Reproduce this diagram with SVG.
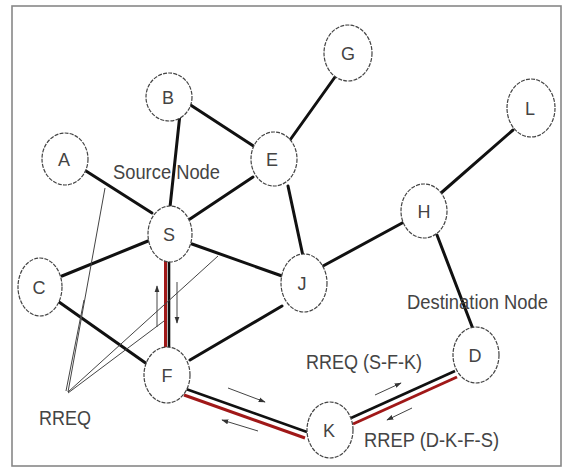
<svg xmlns="http://www.w3.org/2000/svg" width="566" height="468" viewBox="0 0 566 468">
<defs>
<marker id="ah" viewBox="0 0 10 10" refX="9" refY="5" markerWidth="7" markerHeight="7" orient="auto" markerUnits="userSpaceOnUse">
<path d="M0,1.5 L10,5 L0,8.5 Z" fill="#333"/>
</marker>
</defs>
<style>
.edge{stroke:#111;stroke-width:3;fill:none;stroke-linecap:round}
.red{stroke:#a01818;stroke-width:3;fill:none}
.blk{stroke:#111;stroke-width:2.6;fill:none}
.thin{stroke:#444;stroke-width:1;fill:none}
.arr{stroke:#444;stroke-width:1;fill:none;marker-end:url(#ah)}
.node ellipse{fill:#fff;stroke:#444;stroke-width:1.2;stroke-dasharray:4 1.2}
.lbl{font-family:"Liberation Sans",Arial,sans-serif;font-size:18px;fill:#444;text-anchor:middle}
.txt{font-family:"Liberation Sans",Arial,sans-serif;font-size:20px;fill:#444}
</style>
<rect x="0" y="0" width="566" height="468" fill="#fff"/>
<rect x="12" y="6" width="549" height="460" fill="none" stroke="#888" stroke-width="1.6"/>
<g id="connectors">
<line class="edge" x1="189" y1="104" x2="255" y2="147"/>
<line class="edge" x1="180" y1="114" x2="170" y2="207"/>
<line class="edge" x1="86" y1="171" x2="152" y2="213"/>
<line class="edge" x1="190" y1="219" x2="253" y2="177"/>
<line class="edge" x1="290" y1="140" x2="335" y2="77"/>
<line class="edge" x1="288" y1="186" x2="303" y2="256"/>
<line class="edge" x1="323" y1="266" x2="404" y2="222"/>
<line class="edge" x1="441" y1="193" x2="513" y2="130"/>
<line class="edge" x1="437" y1="235" x2="473" y2="329"/>
<line class="edge" x1="148" y1="241" x2="62" y2="276"/>
<line class="edge" x1="192" y1="244" x2="282" y2="276"/>
<line class="edge" x1="59" y1="302" x2="147" y2="364"/>
<line class="edge" x1="190" y1="360" x2="282" y2="306"/>
<line class="red" x1="165.5" y1="260" x2="165.5" y2="348"/>
<line class="blk" x1="169" y1="260" x2="169" y2="348"/>
<line class="blk" x1="186" y1="389" x2="307" y2="432"/>
<line class="red" x1="184" y1="395" x2="305" y2="438"/>
<line class="blk" x1="351" y1="418" x2="455" y2="371"/>
<line class="red" x1="353" y1="424" x2="457" y2="377"/>
<line class="thin" x1="68" y1="392" x2="105" y2="188"/>
<line class="thin" x1="66" y1="391" x2="84" y2="300"/>
<line class="thin" x1="68" y1="392" x2="218" y2="256"/>
<line class="thin" x1="68" y1="393" x2="164" y2="321"/>
<line class="arr" x1="157" y1="327" x2="157" y2="286"/>
<line class="arr" x1="177" y1="282" x2="177" y2="323"/>
<line class="arr" x1="228" y1="388" x2="265" y2="402"/>
<line class="arr" x1="258" y1="431" x2="222" y2="420"/>
<line class="arr" x1="375" y1="395" x2="401" y2="383"/>
<line class="arr" x1="412" y1="408" x2="387" y2="420"/>
</g>
<g id="node-A" class="node"><ellipse cx="65" cy="159" rx="23" ry="26"/><text class="lbl" x="64" y="166">A</text></g>
<g id="node-B" class="node"><ellipse cx="169" cy="97" rx="23" ry="24"/><text class="lbl" x="168" y="104">B</text></g>
<g id="node-E" class="node"><ellipse cx="274" cy="159" rx="23" ry="27"/><text class="lbl" x="272" y="166">E</text></g>
<g id="node-G" class="node"><ellipse cx="348" cy="53" rx="24" ry="28"/><text class="lbl" x="348" y="60">G</text></g>
<g id="node-L" class="node"><ellipse cx="531" cy="108" rx="24" ry="29"/><text class="lbl" x="530" y="115">L</text></g>
<g id="node-H" class="node"><ellipse cx="424" cy="211" rx="23" ry="27"/><text class="lbl" x="424" y="218">H</text></g>
<g id="node-S" class="node"><ellipse cx="170" cy="234" rx="22" ry="28"/><text class="lbl" x="169" y="241">S</text></g>
<g id="node-C" class="node"><ellipse cx="40" cy="287" rx="22" ry="29"/><text class="lbl" x="39" y="294">C</text></g>
<g id="node-J" class="node"><ellipse cx="304" cy="283" rx="23" ry="29"/><text class="lbl" x="302" y="290">J</text></g>
<g id="node-F" class="node"><ellipse cx="167" cy="375" rx="23" ry="28"/><text class="lbl" x="167" y="382">F</text></g>
<g id="node-D" class="node"><ellipse cx="476" cy="355" rx="23" ry="28"/><text class="lbl" x="475" y="362">D</text></g>
<g id="node-K" class="node"><ellipse cx="330" cy="430" rx="23" ry="28"/><text class="lbl" x="329" y="437">K</text></g>
<g id="labels">
<text class="txt" x="113" y="179" textLength="107" lengthAdjust="spacingAndGlyphs">Source Node</text>
<text class="txt" x="407" y="309" textLength="141" lengthAdjust="spacingAndGlyphs">Destination Node</text>
<text class="txt" x="306" y="369" textLength="116" lengthAdjust="spacingAndGlyphs">RREQ (S-F-K)</text>
<text class="txt" x="364" y="447" textLength="135" lengthAdjust="spacingAndGlyphs">RREP (D-K-F-S)</text>
<text class="txt" x="39" y="425" textLength="52" lengthAdjust="spacingAndGlyphs">RREQ</text>
</g>
</svg>
